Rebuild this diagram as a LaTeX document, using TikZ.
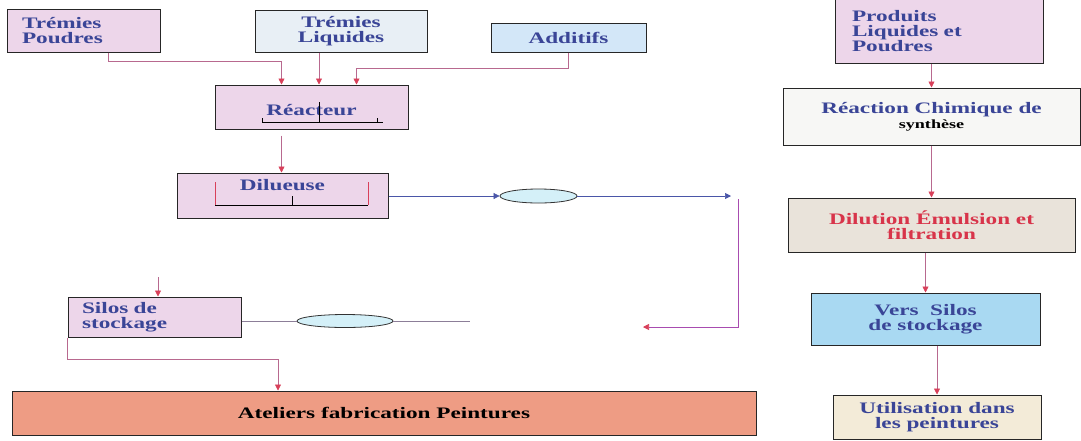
\documentclass[tikz,border=0pt]{standalone}
\usepackage{fontspec}
\setmainfont{Liberation Serif}[FakeStretch=1.45]
\usepackage{xcolor}
\usetikzlibrary{arrows.meta, shapes.geometric}

\definecolor{rose}{HTML}{EDD6EA}
\definecolor{blancbleu}{HTML}{E8EFF5}
\definecolor{bleupale}{HTML}{D3E7F8}
\definecolor{blanccasse}{HTML}{F7F7F5}
\definecolor{beige}{HTML}{E9E3DA}
\definecolor{bleuciel}{HTML}{A9D9F2}
\definecolor{creme}{HTML}{F3EBD8}
\definecolor{saumon}{HTML}{EE9C84}
\definecolor{cyanclair}{HTML}{D4F0F8}
\definecolor{bleutexte}{HTML}{3A4597}
\definecolor{rougetexte}{HTML}{D8344A}
\definecolor{mauve}{HTML}{B8698F}
\definecolor{rouge}{HTML}{D8405A}
\definecolor{violet}{HTML}{A84CB0}
\definecolor{bleuflux}{HTML}{4A56A8}
\definecolor{grismauve}{HTML}{8C7E98}

\begin{document}
\begin{tikzpicture}[x=1pt, y=-1pt,
        bloc/.style={draw=black!85, line width=1pt, font=\fontsize{16}{15}\selectfont\bfseries,
            text=bleutexte, inner sep=0pt, align=center},
        gauche/.style={align=left, inner xsep=15pt, text width=#1},
        pompe/.style={ellipse, draw=black!80, fill=cyanclair, line width=0.8pt, inner sep=0pt},
        fleche/.style={draw=mauve, line width=0.7pt, -{Triangle[length=6pt, width=6pt, color=rouge]}},
        conduite/.style={draw=bleuflux, line width=0.7pt, -{Triangle[length=6pt, width=6pt]}},
        retour/.style={draw=violet, line width=0.7pt, -{Triangle[length=6pt, width=6pt, color=rouge]}},
        ligne/.style={draw=grismauve, line width=0.7pt}
    ]
        \useasboundingbox (0,0) rectangle (1081,440);
        \clip (0,0) rectangle (1081,440);

        % Matieres premieres
        \node[bloc, fill=rose, gauche=123pt, minimum height=43pt] (poudres) at (83.5,30.5) {Trémies\\Poudres};
        \node[bloc, fill=blancbleu, minimum width=172pt, minimum height=42pt] (liquides) at (341,31) {Trémies\\Liquides};
        \node[bloc, fill=bleupale, minimum width=155pt, minimum height=29pt] (additifs) at (568.5,37.5) {Additifs};

        % Reacteur et dilueuse
        \node[bloc, fill=rose, minimum width=193pt, minimum height=44pt, text height=16pt, text depth=0pt] (reacteur) at (311.5,107) {Réacteur};
        \node[bloc, fill=rose, minimum width=211pt, minimum height=45pt, text height=11pt, text depth=22pt] (dilueuse) at (282.5,195.5) {Dilueuse};
        \node[pompe, minimum width=77pt, minimum height=14pt] (pompe1) at (538.5,196) {};

        % Stockage
        \node[bloc, fill=rose, gauche=145pt, inner xsep=14pt, minimum height=40pt] (silos) at (154.5,317) {Silos de\\stockage};
        \node[pompe, minimum width=96pt, minimum height=13pt] (pompe2) at (345,321) {};
        \node[bloc, fill=saumon, text=black, minimum width=744pt, minimum height=44pt] (ateliers) at (384,413) {Ateliers fabrication Peintures};

        % Schema de principe
        \node[bloc, fill=rose, gauche=174pt, inner xsep=17pt, minimum height=65pt] (produits) at (939,31) {Produits\\Liquides et\\Poudres};
        \node[bloc, fill=blanccasse, minimum width=297pt, minimum height=57pt] (reaction) at (931.5,116.5) {Réaction Chimique de\\{\fontsize{12.5}{15}\selectfont\color{black}synthèse}};
        \node[bloc, fill=beige, text=rougetexte, minimum width=287pt, minimum height=54pt] (dilution) at (931.5,225) {Dilution Émulsion et\\filtration};
        \node[bloc, fill=bleuciel, minimum width=229pt, minimum height=52pt] (silosv) at (925.5,319) {Vers~ Silos\\de stockage};
        \node[bloc, fill=creme, minimum width=208pt, minimum height=44pt] (utilisation) at (937,417) {Utilisation dans\\les peintures};

        % Points libres
        \coordinate (r1) at (731,196);
        \coordinate (r2) at (738,199);
        \coordinate (r3) at (643,327);
        \coordinate (entree) at (158,277);
        \coordinate (sortie) at (470,321);

        % Agitateurs
        \draw[black, line width=0.8pt] ([xshift=-49.5pt, yshift=-11pt]reacteur.center) -- ++(0,4) -- ([xshift=71.5pt, yshift=-15pt]reacteur.center);
        \draw[black, line width=0.8pt] ([xshift=65.5pt, yshift=-15pt]reacteur.center) -- ++(0,-4);
        \draw[black, line width=0.8pt] ([xshift=7.5pt, yshift=-15pt]reacteur.center) -- ([xshift=7.5pt, yshift=5pt]reacteur.center);
        \draw[black, line width=0.8pt] ([xshift=-67.5pt, yshift=-9.5pt]dilueuse.center) -- ([xshift=85.5pt, yshift=-9.5pt]dilueuse.center);
        \draw[black, line width=0.8pt] ([xshift=9.5pt, yshift=-9.5pt]dilueuse.center) -- ([xshift=9.5pt]dilueuse.center);
        \foreach \dx in {-67.5, 85.5}
            \draw[rouge, line width=0.8pt] ([xshift=\dx pt, yshift=-9.5pt]dilueuse.center) -- ([xshift=\dx pt, yshift=13.5pt]dilueuse.center);

        % Connections
        \draw[fleche] ([xshift=25pt]poudres.south) -- ++(0,9) -| ([xshift=-30pt]reacteur.north);
        \draw[fleche] ([xshift=-22pt]liquides.south) -- ([xshift=-22pt]liquides.south |- reacteur.north);
        \draw[fleche] (additifs.south) -- ++(0,16) -| ([xshift=45pt]reacteur.north);
        \draw[fleche, shorten <=6pt] ([xshift=-30pt]reacteur.south) -- ([xshift=-30pt]reacteur.south |- dilueuse.north);
        \draw[conduite] (dilueuse.east |- pompe1) -- (pompe1);
        \draw[conduite] (pompe1) -- (r1);
        \draw[retour] (r2) |- (r3);
        \draw[fleche] (entree) -- (entree |- silos.north);
        \draw[ligne] (silos.east |- pompe2) -- (pompe2) -- (sortie);
        \draw[fleche] (silos.south west) -- ++(0,22) -| ([xshift=-106pt]ateliers.north);
        \foreach \a/\b in {produits/reaction, reaction/dilution, dilution/silosv, silosv/utilisation}
            \draw[fleche] (\a.south -| \b) -- (\b.north);
    \end{tikzpicture}
\end{document}
